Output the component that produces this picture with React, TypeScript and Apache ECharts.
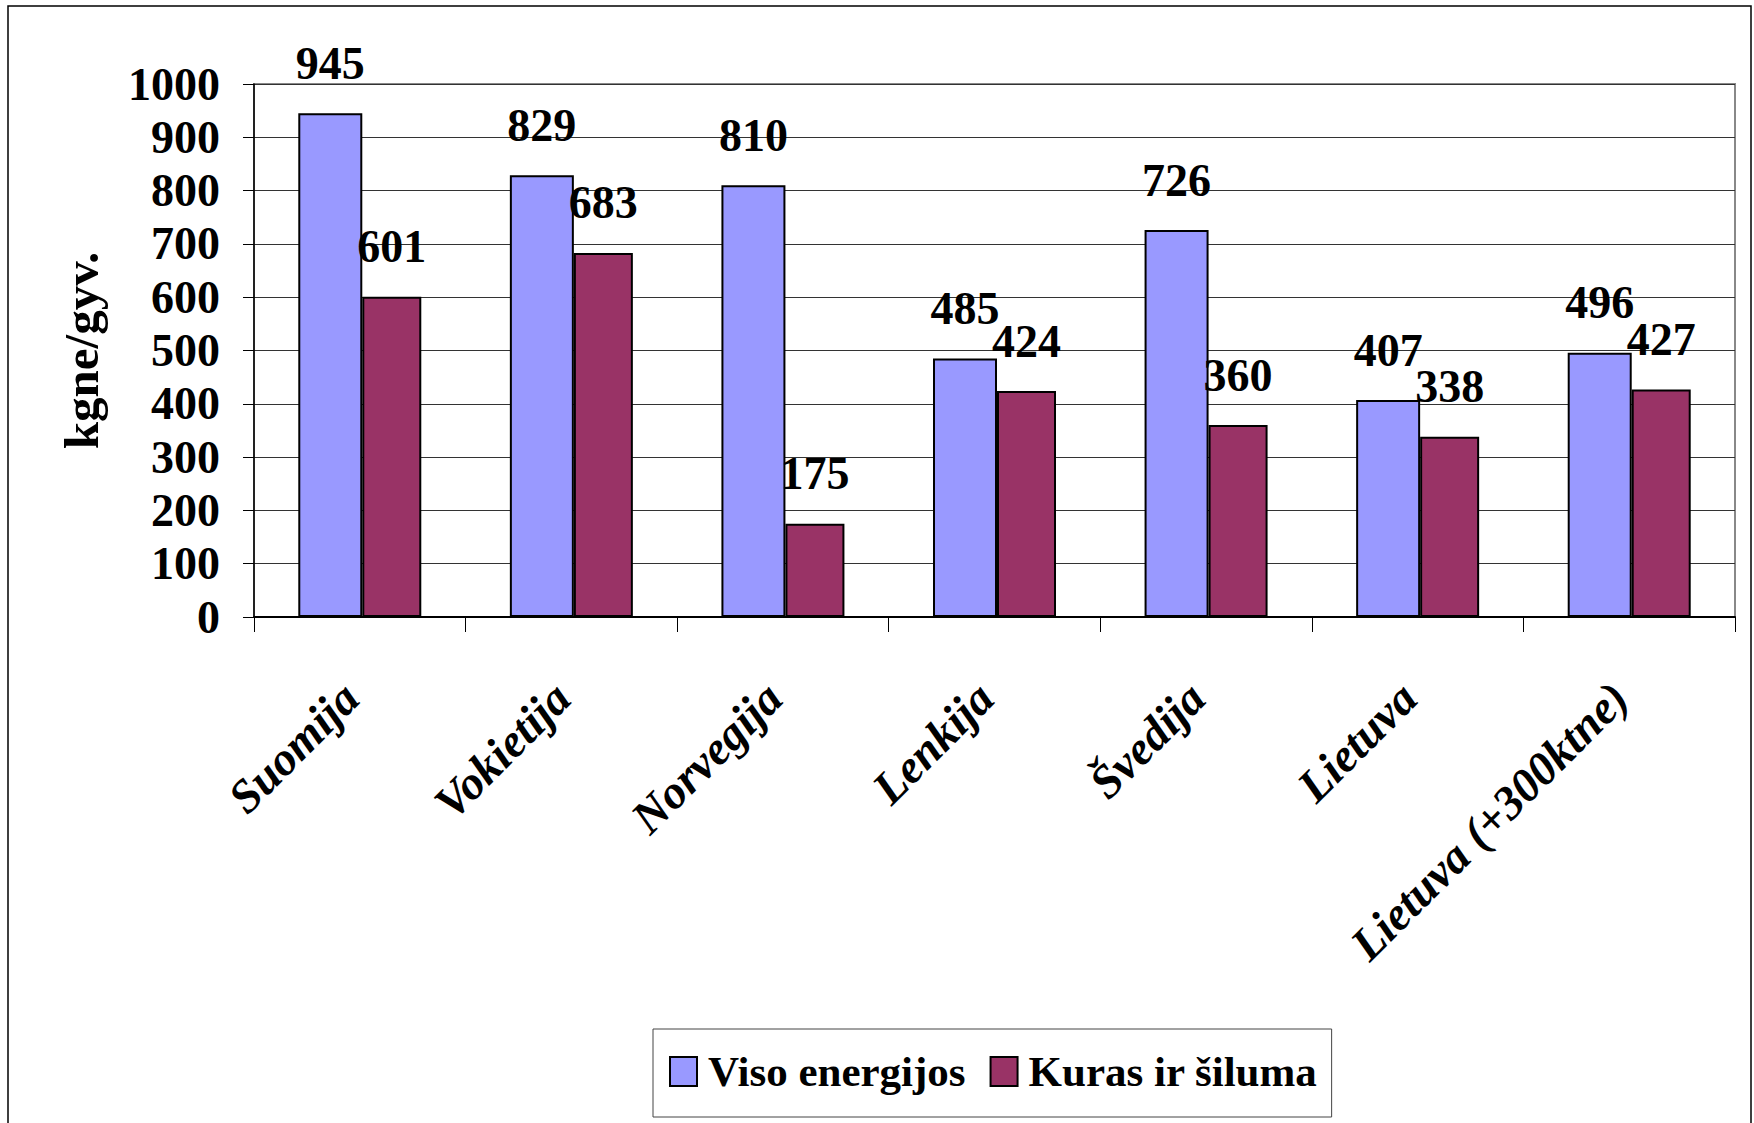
import React, { useEffect, useRef } from "react";
import * as echarts from "echarts";

const categories = ["Suomija", "Vokietija", "Norvegija", "Lenkija", "Švedija", "Lietuva", "Lietuva (+300ktne)"];
const visoEnergijos = [945, 829, 810, 485, 726, 407, 496];
const kurasIrSiluma = [601, 683, 175, 424, 360, 338, 427];
const seriesNames = ["Viso energijos", "Kuras ir šiluma"];
const yAxisName = "kgne/gyv.";

const FONT = "'Liberation Serif', 'Times New Roman', serif";

export default function App() {
  const ref = useRef<HTMLDivElement>(null);
  useEffect(() => {
    const chart = echarts.init(ref.current!, null, { renderer: "svg" });
    const labelStyle = {
      show: true,
      position: "top" as const,
      distance: 27,
      fontFamily: FONT,
      fontWeight: "bold" as const,
      fontSize: 46,
      color: "#000",
    };
    chart.setOption({
      animation: false,
      backgroundColor: "#fff",
      graphic: [
        {
          type: "rect",
          shape: { x: 8, y: 6, width: 1743, height: 1140 },
          style: { fill: "none", stroke: "#000", lineWidth: 1.5 },
          silent: true,
        },
      ],
      grid: {
        left: 254,
        right: 19,
        top: 84,
        bottom: 506,
        show: true,
        borderColor: "#888",
        borderWidth: 2,
      },
      legend: {
        left: 653,
        top: 1029,
        orient: "horizontal",
        icon: "rect",
        borderColor: "#444",
        borderWidth: 1,
        padding: [21, 14, 24, 16],
        itemWidth: 27,
        itemHeight: 29,
        itemGap: 24,
        textStyle: {
          fontFamily: FONT,
          fontWeight: "bold",
          fontSize: 43,
          color: "#000",
          padding: [0, 0, 0, 6],
        },
        data: seriesNames,
      },
      xAxis: {
        type: "category",
        data: categories,
        axisLine: { lineStyle: { color: "#000", width: 2 } },
        axisTick: { show: true, length: 15, lineStyle: { color: "#000" } },
        axisLabel: {
          rotate: 45,
          interval: 0,
          margin: 64,
          padding: [0, 13, 0, 0],
          fontFamily: FONT,
          fontWeight: "bold",
          fontStyle: "italic",
          fontSize: 47,
          color: "#000",
        },
      },
      yAxis: {
        type: "value",
        min: 0,
        max: 1000,
        interval: 100,
        name: yAxisName,
        nameLocation: "middle",
        nameGap: 148,
        nameRotate: 90,
        nameTextStyle: {
          fontFamily: FONT,
          fontWeight: "bold",
          fontSize: 49,
          color: "#000",
        },
        axisLine: { show: true, lineStyle: { color: "#000", width: 1.5 } },
        axisTick: { show: true, length: 11, lineStyle: { color: "#000" } },
        axisLabel: {
          margin: 34,
          fontFamily: FONT,
          fontWeight: "bold",
          fontSize: 46,
          color: "#000",
          formatter: (v: number) => String(v),
        },
        splitLine: { show: true, lineStyle: { color: "#333", width: 1 } },
      },
      series: [
        {
          name: seriesNames[0],
          type: "bar",
          data: visoEnergijos,
          barWidth: 64,
          barGap: "0%",
          itemStyle: { color: "#9999FF", borderColor: "#000", borderWidth: 2 },
          label: labelStyle,
        },
        {
          name: seriesNames[1],
          type: "bar",
          data: kurasIrSiluma,
          barWidth: 59,
          barGap: "0%",
          itemStyle: { color: "#993366", borderColor: "#000", borderWidth: 2 },
          label: labelStyle,
        },
      ],
    });
    return () => chart.dispose();
  }, []);
  return (
    <div
      ref={ref}
      style={{ position: "absolute", left: 0, top: 0, width: 1754, height: 1123 }}
    />
  );
}
